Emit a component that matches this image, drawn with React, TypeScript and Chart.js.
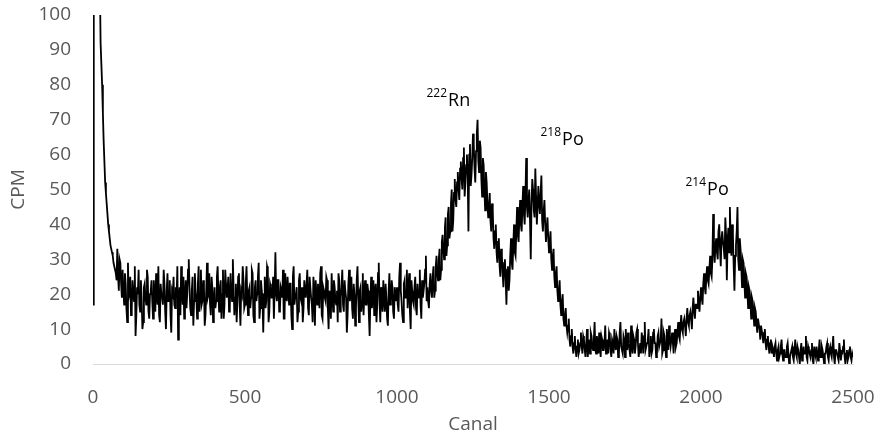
import React, { useEffect, useRef } from "react";
import { Chart, registerables } from "chart.js";

Chart.register(...registerables);

// Channel spacing of the sampled spectrum
const CHANNEL_START = 0;
const CHANNEL_STEP = 5;
const HALF_OFFSET = 2.5;

// Counts per minute at channels 0, 5, 10 ... 2500
const counts: number[] = [
  // 0-95
  17, 300, 300, 300, 250, 92, 80, 64, 52, 46, 40, 36, 33, 31, 28, 26, 33, 21, 29, 19,
  // 100-195
  21, 26, 16, 29, 20, 14, 24, 18, 8, 22, 27, 15, 19, 12, 23, 17, 25, 13, 21, 18,
  // 200-295
  24, 15, 19, 28, 12, 20, 17, 23, 10, 26, 18, 14, 21, 25, 16, 19, 7, 22, 28, 17,
  // 300-395
  13, 24, 20, 30, 16, 21, 11, 26, 19, 23, 15, 27, 18, 22, 14, 29, 20, 17, 25, 12,
  // 400-495
  22, 18, 28, 15, 24, 20, 13, 27, 19, 25, 16, 21, 30, 14, 23, 18, 26, 11, 20, 24,
  // 500-595
  17, 28, 14, 22, 19, 26, 12, 24, 20, 29, 16, 21, 9, 25, 18, 27, 15, 22, 19, 13,
  // 600-695
  32, 18, 24, 16, 21, 27, 13, 20, 25, 17, 23, 10, 28, 19, 22, 15, 26, 18, 12, 24,
  // 700-795
  19, 27, 14, 22, 17, 25, 11, 20, 23, 16, 28, 13, 21, 18, 24, 10, 19, 26, 15, 22,
  // 800-895
  17, 12, 24, 19, 27, 15, 21, 9, 23, 18, 25, 13, 20, 16, 28, 12, 22, 18, 14, 24,
  // 900-995
  17, 21, 8, 25, 19, 14, 23, 17, 29, 12, 20, 24, 15, 19, 11, 26, 18, 22, 13, 20,
  // 1000-1095
  22, 15, 29, 18, 12, 24, 19, 16, 26, 10, 21, 17, 25, 14, 20, 27, 13, 19, 23, 31,
  // 1100-1195
  22, 16, 26, 19, 28, 21, 31, 24, 33, 27, 37, 30, 42, 34, 45, 38, 50, 41, 53, 45,
  // 1200-1295
  55, 47, 58, 50, 62, 52, 60, 38, 63, 54, 66, 56, 61, 70, 55, 62, 48, 57, 44, 52,
  // 1300-1395
  42, 49, 38, 44, 33, 40, 29, 36, 25, 31, 22, 30, 17, 28, 24, 36, 27, 40, 31, 45,
  // 1400-1495
  35, 47, 38, 51, 40, 59, 42, 50, 30, 53, 44, 56, 40, 51, 43, 54, 38, 47, 35, 42,
  // 1500-1595
  32, 38, 27, 33, 22, 28, 18, 24, 14, 20, 11, 16, 9, 13, 5, 10, 3, 8, 2, 7,
  // 1600-1695
  4, 9, 3, 7, 2, 10, 5, 3, 8, 4, 12, 3, 6, 9, 2, 7, 4, 11, 5, 3,
  // 1700-1795
  8, 2, 6, 10, 4, 7, 3, 12, 5, 8, 2, 6, 9, 4, 11, 3, 7, 5, 10, 2,
  // 1800-1895
  6, 9, 3, 12, 5, 7, 2, 8, 4, 10, 6, 3, 9, 5, 13, 4, 8, 2, 7, 11,
  // 1900-1995
  5, 9, 3, 10, 6, 12, 7, 14, 9, 13, 8, 16, 11, 15, 10, 19, 13, 17, 21, 15,
  // 2000-2095
  22, 17, 26, 20, 28, 23, 31, 25, 43, 29, 36, 30, 40, 28, 38, 33, 42, 24, 39, 45,
  // 2100-2195
  31, 37, 21, 34, 45, 27, 33, 22, 29, 19, 25, 16, 21, 13, 18, 11, 15, 9, 13, 7,
  // 2200-2295
  11, 6, 10, 4, 8, 3, 7, 5, 2, 6, 1, 5, 3, 7, 1, 4, 2, 6, 0, 3,
  // 2300-2395
  5, 1, 7, 2, 4, 0, 6, 2, 3, 8, 1, 4, 2, 6, 0, 3, 5, 1, 7, 2,
  // 2400-2495
  4, 0, 3, 6, 1, 5, 2, 8, 0, 4, 2, 6, 1, 3, 7, 0, 4, 2, 5, 1,
  // 2500
  2,
];

// Counts per minute at the in-between channels 2.5, 7.5 ... 2497.5
const countsHalf: number[] = [
  // 2.5-97.5
  300, 300, 300, 300, 110, 86, 72, 58, 49, 43, 38, 34, 32, 29, 27, 24, 25, 30, 23, 27,
  // 102.5-197.5
  17, 23, 12, 19, 25, 16, 21, 28, 14, 20, 17, 24, 10, 22, 19, 27, 15, 20, 24, 13,
  // 202.5-297.5
  20, 26, 17, 14, 23, 19, 27, 15, 21, 18, 24, 9, 20, 17, 22, 28, 19, 14, 21, 25,
  // 302.5-397.5
  19, 16, 27, 22, 14, 25, 18, 21, 13, 28, 20, 17, 24, 11, 21, 19, 26, 14, 22, 18,
  // 402.5-497.5
  16, 25, 20, 22, 13, 27, 17, 23, 21, 15, 26, 18, 22, 19, 12, 25, 17, 21, 28, 16,
  // 502.5-597.5
  23, 19, 21, 16, 27, 14, 22, 18, 25, 13, 24, 19, 20, 16, 28, 12, 23, 19, 25, 21,
  // 602.5-697.5
  20, 24, 15, 22, 19, 13, 26, 18, 21, 23, 14, 25, 17, 20, 12, 24, 19, 22, 16, 21,
  // 702.5-797.5
  23, 16, 25, 19, 12, 21, 24, 17, 20, 26, 14, 22, 19, 25, 16, 21, 13, 20, 24, 18,
  // 802.5-897.5
  21, 26, 15, 22, 17, 24, 19, 14, 27, 20, 16, 23, 11, 24, 19, 21, 15, 26, 20, 17,
  // 902.5-997.5
  23, 14, 19, 16, 24, 21, 12, 26, 18, 22, 15, 19, 23, 13, 21, 17, 24, 15, 22, 18,
  // 1002.5-1097.5
  17, 25, 21, 14, 23, 19, 27, 21, 15, 24, 18, 22, 16, 23, 19, 17, 24, 21, 27, 18,
  // 1102.5-1197.5
  18, 23, 21, 25, 19, 28, 26, 30, 24, 35, 33, 39, 31, 43, 36, 46, 38, 49, 47, 52,
  // 1202.5-1297.5
  50, 56, 53, 59, 48, 57, 54, 60, 51, 59, 63, 52, 66, 58, 64, 53, 59, 50, 55, 46,
  // 1302.5-1397.5
  45, 41, 46, 36, 38, 32, 35, 28, 33, 26, 29, 24, 27, 21, 31, 29, 34, 32, 38, 37,
  // 1402.5-1497.5
  42, 40, 45, 43, 48, 45, 47, 41, 46, 50, 42, 48, 45, 46, 49, 41, 44, 40, 39, 36,
  // 1502.5-1597.5
  35, 30, 31, 25, 26, 21, 21, 17, 18, 13, 14, 11, 11, 7, 8, 5, 6, 4, 5, 3,
  // 1602.5-1697.5
  6, 5, 8, 4, 6, 2, 7, 9, 5, 7, 4, 8, 3, 5, 8, 4, 6, 3, 7, 9,
  // 1702.5-1797.5
  4, 7, 3, 6, 8, 2, 9, 5, 3, 7, 10, 4, 6, 2, 5, 8, 3, 9, 6, 4,
  // 1802.5-1897.5
  3, 7, 8, 4, 6, 10, 5, 3, 9, 6, 2, 8, 5, 7, 3, 9, 5, 10, 4, 7,
  // 1902.5-1997.5
  7, 6, 8, 5, 9, 8, 11, 10, 12, 11, 13, 12, 14, 13, 16, 15, 17, 16, 18, 19,
  // 2002.5-2097.5
  19, 23, 22, 25, 24, 27, 26, 30, 33, 34, 32, 38, 33, 36, 35, 30, 37, 35, 32, 36,
  // 2102.5-2197.5
  40, 28, 31, 38, 30, 36, 28, 30, 24, 26, 21, 22, 18, 19, 15, 16, 12, 13, 10, 11,
  // 2202.5-2297.5
  8, 9, 6, 7, 5, 6, 3, 4, 5, 3, 4, 2, 5, 3, 4, 2, 5, 3, 2, 4,
  // 2302.5-2397.5
  2, 4, 3, 5, 2, 4, 1, 5, 3, 2, 5, 3, 4, 1, 5, 2, 3, 4, 2, 5,
  // 2402.5-2497.5
  2, 3, 5, 2, 4, 3, 5, 2, 4, 3, 1, 4, 3, 5, 2, 3, 1, 4, 2, 3,
];

// Axis ranges / ticks
const X_MIN = 0;
const X_MAX = 2500;
const X_STEP = 500;
const Y_MIN = 0;
const Y_MAX = 100;
const Y_STEP = 10;

// Peak annotations
const peakMass = ["222", "218", "214"];
const peakElement = ["Rn", "Po", "Po"];
const peakChannel = [1168, 1543, 2020];
const peakCpm = [73.9, 62.7, 48.4];

const FONT = "'Open Sans', 'DejaVu Sans', sans-serif";
const GRAY = "#595959";

const peakLabelPlugin = {
  id: "peakLabels",
  afterDatasetsDraw(chart: any) {
    const { ctx, scales } = chart;
    ctx.save();
    ctx.fillStyle = "#000000";
    ctx.textBaseline = "alphabetic";
    for (let i = 0; i < peakElement.length; i++) {
      const px = scales.x.getPixelForValue(peakChannel[i]);
      const py = scales.y.getPixelForValue(peakCpm[i]);
      ctx.font = `12px ${FONT}`;
      ctx.textAlign = "right";
      ctx.fillText(peakMass[i], px - 1, py - 9);
      ctx.font = `18px ${FONT}`;
      ctx.textAlign = "left";
      ctx.fillText(peakElement[i], px, py);
    }
    ctx.restore();
  },
};

export default function App() {
  const ref = useRef<HTMLCanvasElement | null>(null);

  useEffect(() => {
    if (!ref.current) return;
    const points: { x: number; y: number }[] = [];
    counts.forEach((v, i) => {
      const ch = CHANNEL_START + i * CHANNEL_STEP;
      points.push({ x: ch, y: v });
      if (i < countsHalf.length) points.push({ x: ch + HALF_OFFSET, y: countsHalf[i] });
    });
    const chart = new Chart(ref.current, {
      type: "line",
      data: {
        datasets: [
          {
            data: points,
            borderColor: "#000000",
            borderWidth: 1.8,
            pointRadius: 0,
            tension: 0,
            fill: false,
          },
        ],
      },
      options: {
        animation: false,
        responsive: false,
        maintainAspectRatio: false,
        layout: { padding: { top: 15, right: 25, bottom: 0, left: 0 } },
        plugins: {
          legend: { display: false },
          tooltip: { enabled: false },
        },
        scales: {
          x: {
            type: "linear",
            min: X_MIN,
            max: X_MAX,
            grid: { display: false, drawTicks: false },
            border: { display: true, color: "#d9d9d9", width: 1 },
            ticks: {
              stepSize: X_STEP,
              color: GRAY,
              font: { family: FONT, size: 19 },
              padding: 22,
              maxRotation: 0,
              callback: (v: any) => String(v),
            },
            title: {
              display: true,
              text: "Canal",
              color: GRAY,
              font: { family: FONT, size: 19 },
              padding: { top: 0, bottom: 4 },
            },
            afterFit(scale: any) {
              scale.height = 76;
              scale.paddingLeft = 0;
              scale.paddingRight = 0;
            },
          },
          y: {
            min: Y_MIN,
            max: Y_MAX,
            grid: { display: false, drawTicks: false },
            border: { display: false },
            ticks: {
              stepSize: Y_STEP,
              color: GRAY,
              font: { family: FONT, size: 19 },
              padding: 22,
              callback: (v: any) => String(v),
            },
            title: {
              display: true,
              text: "CPM",
              color: GRAY,
              font: { family: FONT, size: 19 },
              padding: { top: 7, bottom: 0 },
            },
            afterFit(scale: any) {
              scale.width = 93;
              scale.paddingTop = 0;
              scale.paddingBottom = 0;
            },
          },
        },
      },
      plugins: [peakLabelPlugin],
    });
    return () => chart.destroy();
  }, []);

  return (
    <div style={{ position: "fixed", left: 0, top: 0, width: 878, height: 440, background: "#ffffff" }}>
      <canvas ref={ref} width={878} height={440} style={{ width: 878, height: 440, display: "block" }} />
    </div>
  );
}
